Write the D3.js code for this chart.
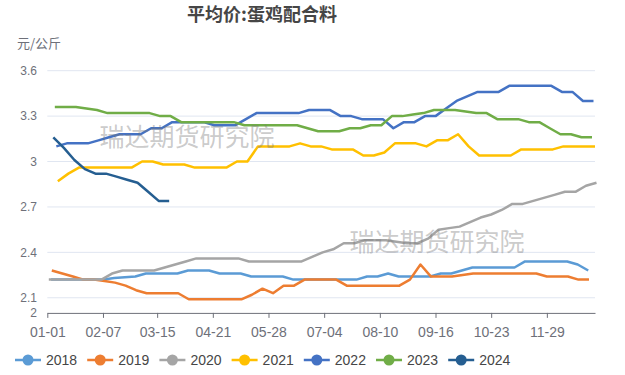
<!DOCTYPE html>
<html>
<head>
<meta charset="utf-8">
<script src="https://cdn.jsdelivr.net/npm/d3@7"></script>
<style>
  body { margin: 0; background: #fff; }
  svg { display: block; font-family: "Liberation Sans", "Noto Sans CJK SC", sans-serif; }
</style>
</head>
<body>
<svg id="chart" width="625" height="375"></svg>
<script>
// weekly average price, one array per year (元/公斤)
const years = ["2018", "2019", "2020", "2021", "2022", "2023", "2024"];
const colors = ["#5b9bd5", "#ed7d31", "#a5a5a5", "#ffc000", "#4472c4", "#70ad47", "#255e91"];
// day of year of each series' first weekly reading
const firstDay = [2.5, 3, 1, 7, 6, 5, 4];

const v2018 = [2.22, 2.22, 2.22, 2.22, 2.22, 2.22, 2.23, 2.235, 2.24, 2.26, 2.26, 2.26, 2.26, 2.28, 2.28, 2.28,
  2.26, 2.26, 2.26, 2.24, 2.24, 2.24, 2.24, 2.22, 2.22, 2.22, 2.22, 2.22, 2.22, 2.22, 2.24, 2.24, 2.26, 2.24,
  2.24, 2.24, 2.24, 2.26, 2.26, 2.28, 2.30, 2.30, 2.30, 2.30, 2.30, 2.34, 2.34, 2.34, 2.34, 2.34, 2.32, 2.28];
const v2019 = [2.28, 2.26, 2.24, 2.22, 2.22, 2.21, 2.20, 2.18, 2.15, 2.13, 2.13, 2.13, 2.13, 2.09, 2.09, 2.09,
  2.09, 2.09, 2.09, 2.12, 2.16, 2.13, 2.18, 2.18, 2.22, 2.22, 2.22, 2.22, 2.18, 2.18, 2.18, 2.18, 2.18, 2.18,
  2.22, 2.32, 2.24, 2.24, 2.24, 2.25, 2.26, 2.26, 2.26, 2.26, 2.26, 2.26, 2.26, 2.24, 2.24, 2.24, 2.22, 2.22];
const v2020 = [2.22, 2.22, 2.22, 2.22, 2.22, 2.22, 2.26, 2.28, 2.28, 2.28, 2.28, 2.30, 2.32, 2.34, 2.36, 2.36,
  2.36, 2.36, 2.36, 2.34, 2.34, 2.34, 2.34, 2.34, 2.34, 2.37, 2.40, 2.42, 2.46, 2.46, 2.48, 2.48, 2.48, 2.47,
  2.46, 2.46, 2.49, 2.55, 2.56, 2.57, 2.60, 2.63, 2.65, 2.68, 2.72, 2.72, 2.74, 2.76, 2.78, 2.80, 2.80, 2.84, 2.86];
const v2021 = [2.87, 2.92, 2.96, 2.96, 2.96, 2.96, 2.96, 2.96, 3.00, 3.00, 2.98, 2.98, 2.98, 2.96, 2.96, 2.96,
  2.96, 3.00, 3.00, 3.10, 3.10, 3.10, 3.10, 3.12, 3.10, 3.10, 3.08, 3.08, 3.08, 3.04, 3.04, 3.06, 3.12, 3.12,
  3.12, 3.10, 3.14, 3.14, 3.18, 3.10, 3.04, 3.04, 3.04, 3.04, 3.08, 3.08, 3.08, 3.08, 3.10, 3.10, 3.10, 3.10];
const v2022 = [3.10, 3.12, 3.12, 3.12, 3.14, 3.16, 3.18, 3.18, 3.18, 3.22, 3.22, 3.26, 3.26, 3.26, 3.26, 3.24,
  3.24, 3.24, 3.28, 3.32, 3.32, 3.32, 3.32, 3.32, 3.34, 3.34, 3.34, 3.30, 3.30, 3.28, 3.28, 3.28, 3.22, 3.26,
  3.26, 3.30, 3.30, 3.35, 3.40, 3.43, 3.46, 3.46, 3.46, 3.50, 3.50, 3.50, 3.50, 3.50, 3.46, 3.46, 3.40, 3.40];
const v2023 = [3.36, 3.36, 3.36, 3.35, 3.34, 3.32, 3.32, 3.32, 3.32, 3.32, 3.30, 3.30, 3.26, 3.26, 3.26, 3.26,
  3.26, 3.26, 3.24, 3.24, 3.24, 3.24, 3.24, 3.24, 3.22, 3.20, 3.20, 3.20, 3.22, 3.22, 3.24, 3.24, 3.30, 3.30,
  3.31, 3.32, 3.34, 3.34, 3.34, 3.33, 3.32, 3.32, 3.28, 3.28, 3.28, 3.26, 3.26, 3.22, 3.18, 3.18, 3.16, 3.16];
const v2024 = [3.16, 3.09, 3.01, 2.95, 2.92, 2.92, 2.90, 2.88, 2.86, 2.80, 2.74, 2.74];

const seriesValues = [v2018, v2019, v2020, v2021, v2022, v2023, v2024];
const xTickLabels = ["01-01", "02-07", "03-15", "04-21", "05-28", "07-04", "08-10", "09-16", "10-23", "11-29"];
const yTicks = [2, 2.1, 2.4, 2.7, 3, 3.3, 3.6];

const svg = d3.select("#chart");
const plotLeft = 47.3, plotRight = 595, plotTop = 70.7, plotBottom = 312.9;

// category axis is one slot per day of a 365-day year
const x = d3.scaleLinear().domain([0, 364]).range([plotLeft, plotRight]);
const y = d3.scaleLinear().domain([2, 3.6]).range([plotBottom, plotTop]);

const parseMD = d3.timeParse("%m-%d");
const dayOf = (s) => d3.timeDay.count(new Date(1900, 0, 1), parseMD(s));

// title + unit
svg.append("text")
  .attr("x", 262).attr("y", 21)
  .attr("text-anchor", "middle")
  .style("font-family", "'Noto Sans CJK SC', sans-serif")
  .style("font-size", "18px").style("font-weight", "bold")
  .attr("fill", "#464646")
  .text("平均价:蛋鸡配合料");

svg.append("text")
  .attr("x", 17).attr("y", 48)
  .style("font-family", "'Noto Sans CJK SC', sans-serif")
  .style("font-size", "13px")
  .attr("fill", "#6e7079")
  .text("元/公斤");

// grid
svg.append("g")
  .selectAll("line")
  .data(yTicks.filter((t) => t > 2))
  .join("line")
  .attr("x1", plotLeft).attr("x2", plotRight)
  .attr("y1", (d) => y(d)).attr("y2", (d) => y(d))
  .attr("stroke", "#e0e6f1").attr("stroke-width", 1);

// y labels
svg.append("g")
  .selectAll("text")
  .data(yTicks)
  .join("text")
  .attr("x", 37)
  .attr("y", (d) => y(d))
  .attr("dy", "0.35em")
  .attr("text-anchor", "end")
  .attr("fill", "#6e7079")
  .style("font-size", "12px")
  .text((d) => d3.format("~g")(d));

// x axis
const xAxis = d3.axisBottom(x)
  .tickValues(xTickLabels.map(dayOf))
  .tickFormat((d, i) => xTickLabels[i])
  .tickSizeInner(5).tickSizeOuter(0).tickPadding(9);

const gx = svg.append("g")
  .attr("transform", `translate(0,${plotBottom})`)
  .call(xAxis);
gx.select(".domain").attr("stroke", "#6e7079");
gx.selectAll(".tick line").attr("stroke", "#6e7079");
gx.selectAll(".tick text")
  .attr("fill", "#6e7079")
  .style("font-size", "14px")
  .style("font-family", "'Liberation Sans', sans-serif");

// lines
const line = d3.line()
  .x((d) => x(d.day))
  .y((d) => y(d.value));

years.forEach((yr, k) => {
  const pts = seriesValues[k].map((v, i) => ({ day: firstDay[k] + 7 * i, value: v }));
  svg.append("path")
    .datum(pts)
    .attr("fill", "none")
    .attr("stroke", colors[k])
    .attr("stroke-width", 2.5)
    .attr("stroke-linejoin", "round")
    .attr("d", line);
});

// watermark
[[187, 137], [437, 242]].forEach(([wx, wy]) => {
  svg.append("text")
    .attr("x", wx).attr("y", wy)
    .attr("dy", "0.35em")
    .attr("text-anchor", "middle")
    .style("font-family", "'Noto Sans CJK SC', sans-serif")
    .style("font-size", "25px")
    .attr("fill", "rgba(120,120,120,0.4)")
    .text("瑞达期货研究院");
});

// legend
const legend = svg.append("g").attr("transform", "translate(15,360)");
const item = legend.selectAll("g")
  .data(years)
  .join("g")
  .attr("transform", (d, i) => `translate(${i * 72.2},0)`);
item.append("line")
  .attr("x1", 0).attr("x2", 26)
  .attr("stroke", (d, i) => colors[i])
  .attr("stroke-width", 2.5);
item.append("circle")
  .attr("cx", 13).attr("r", 5.5)
  .attr("fill", (d, i) => colors[i]);
item.append("text")
  .attr("x", 31).attr("dy", "0.35em")
  .attr("fill", "#464646")
  .style("font-size", "14px")
  .text((d) => d);
</script>
</body>
</html>
